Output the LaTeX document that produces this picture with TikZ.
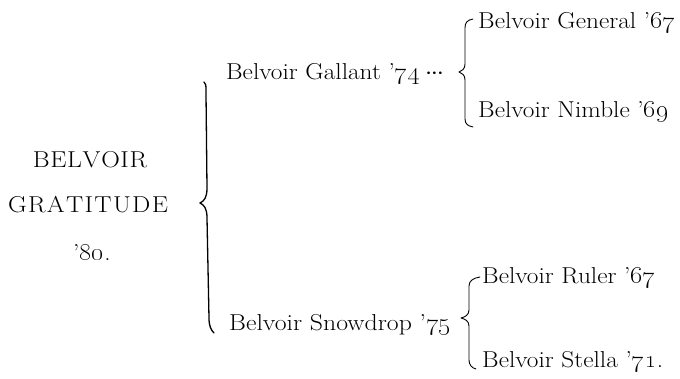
\documentclass[tikz,border=0pt]{standalone}
\newcommand\yr[1]{’\oldstylenums{#1}}
\newcommand\wide[1]{\scalebox{1.1}[1]{#1}}
\newcommand\smalldots{${\cdot}\kern-1.6pt{\cdot}\kern-1.6pt{\cdot}$}
\begin{document}
\begin{tikzpicture}[x=1pt,y=1pt,
  lbl/.style={font=\fontsize{23}{27}\selectfont, inner sep=0pt, anchor=base west},
  ctr/.style={font=\fontsize{23}{27}\selectfont, inner sep=0pt, anchor=base},
  bigbrace/.style={line width=1.3pt, line cap=round, line join=round},
  smallbrace/.style={line width=0.9pt, line cap=round, line join=round}]
\useasboundingbox (0,0) rectangle (680,378);
% root
\node[ctr] (r1) at (90,210) {\scalebox{1.12}[1]{B\kern0.6pt E\kern0.6pt L\kern0.6pt V\kern0.6pt O\kern0.6pt I\kern0.6pt R}};
\node[ctr] (r2) at (88,165) {\scalebox{1.12}[1]{G\kern1.2pt R\kern1.2pt A\kern1.2pt T\kern1.2pt I\kern1.2pt T\kern1.2pt U\kern1.2pt D\kern1.2pt E}};
\node[ctr] (r3) at (92,118) {\wide{\yr{80}.}};
% parents
\node[lbl] (sire) at (226,298) {\wide{Belvoir Gallant \yr{74}\hspace{4.5pt}\smalldots}};
\node[lbl] (dam) at (229,48) {\scalebox{1.12}[1]{Belvoir Snowdrop \yr{75}}};
% grandparents
\node[lbl] (ss) at (478,349) {\wide{Belvoir General \yr{67}}};
\node[lbl] (sd) at (478,260) {\wide{Belvoir Nimble \yr{69}}};
\node[lbl] (ds) at (482,95) {\wide{Belvoir Ruler \yr{67}}};
\node[lbl] (dd) at (482,11) {\wide{Belvoir Stella \yr{71}.}};
% big brace
\draw[bigbrace] (204,296) .. controls (206,294) .. (206,285) -- (207,190)
  .. controls (207,180) and (204,177) .. (200,175)
  .. controls (204,173) and (207,170) .. (207,160) -- (209,60)
  .. controls (209,52) and (211,48) .. (214,45);
% small brace 1
\draw[smallbrace] (473,359) .. controls (467,358) and (465,355) .. (465,350) -- (465,314)
  .. controls (465,309) and (462,307) .. (459,306)
  .. controls (462,305) and (465,303) .. (465,298) -- (465,259)
  .. controls (465,254) and (468,252) .. (473,251);
% small brace 2
\draw[smallbrace] (480,101) .. controls (473,100) and (469,97) .. (469,92) -- (469,68)
  .. controls (469,63) and (465,61) .. (461,60)
  .. controls (465,59) and (469,57) .. (469,52) -- (469,18)
  .. controls (469,13) and (472,10) .. (476,9);
\end{tikzpicture}
\end{document}
